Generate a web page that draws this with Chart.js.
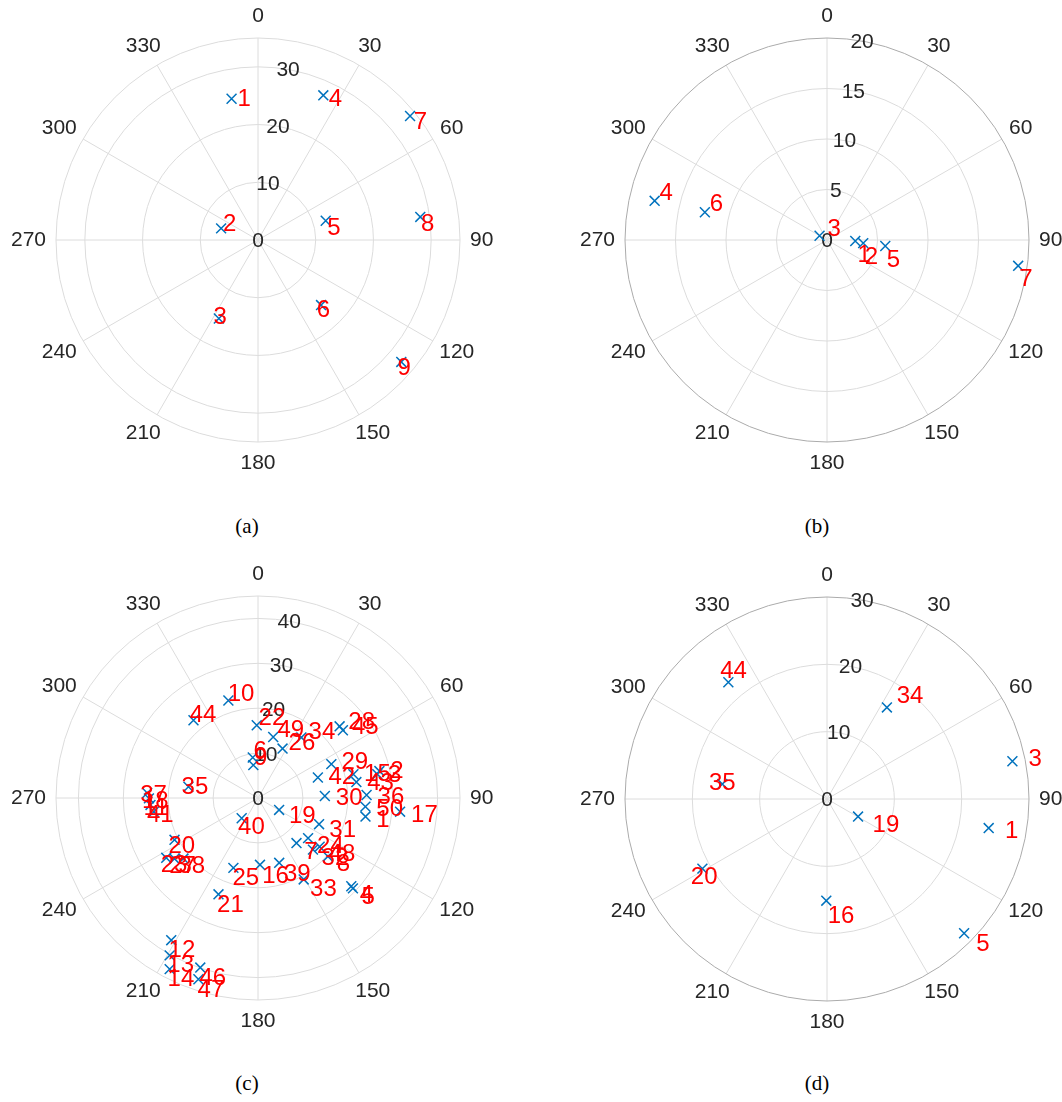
<!DOCTYPE html>
<html>
<head>
<meta charset="utf-8">
<script src="https://cdn.jsdelivr.net/npm/chart.js@4.4.0/dist/chart.umd.min.js"></script>
<style>
  body { margin: 0; width: 1062px; height: 1102px; background: #fff; position: relative; overflow: hidden; }
  canvas { position: absolute; }
  .cap { position: absolute; width: 60px; margin-left: -30px; text-align: center;
         font-family: "Liberation Serif", "Times New Roman", serif; font-size: 21px; line-height: 24px; color: #000; }
</style>
</head>
<body>
<canvas id="polarA" width="514" height="487" style="left:1px; top:0px"></canvas>
<canvas id="polarB" width="514" height="487" style="left:570px; top:0px"></canvas>
<canvas id="polarC" width="514" height="487" style="left:1px; top:558px"></canvas>
<canvas id="polarD" width="514" height="487" style="left:570px; top:559px"></canvas>
<div class="cap" style="left:247px; top:514px">(a)</div>
<div class="cap" style="left:817px; top:514px">(b)</div>
<div class="cap" style="left:247px; top:1071px">(c)</div>
<div class="cap" style="left:817px; top:1071px">(d)</div>
<script>
// angle ticks (degrees, clockwise from top)
const angleTicks = [0, 30, 60, 90, 120, 150, 180, 210, 240, 270, 300, 330];

// (a)
const labelsA = [1, 2, 3, 4, 5, 6, 7, 8, 9];
const thetaA = [349.4, 287.5, 206.5, 24.3, 74.1, 135.9, 50.8, 81.9, 130.4];
const rhoA = [24.9, 6.7, 15.2, 27.5, 12.2, 15.7, 34.0, 28.4, 32.6];
const rTicksA = [0, 10, 20, 30];
const rMaxA = 35;

// (b)
const labelsB = [1, 2, 3, 4, 5, 6, 7];
const thetaB = [92, 94.9, 300, 282.8, 95.9, 282.8, 97.7];
const rhoB = [2.8, 3.6, 0.85, 17.5, 5.8, 12.4, 19.1];
const rTicksB = [0, 5, 10, 15, 20];
const rMaxB = 20;

// (c)
const labelsC = [1, 2, 3, 4, 5, 6, 7, 8, 9, 10,
  11, 12, 13, 14, 15, 16, 17, 18, 19, 20,
  21, 22, 23, 24, 25, 26, 27, 28, 29, 30,
  31, 32, 33, 34, 35, 36, 37, 38, 39, 40,
  41, 42, 43, 44, 45, 46, 47, 48, 49, 50];
const thetaC = [99.8, 77.5, 78.7, 133.4, 133.6, 352.6, 139.5, 129.9, 351.9, 343.1,
  266.3, 211.4, 209.3, 207.3, 76.0, 178.3, 95.5, 269.8, 119.4, 243.4,
  202.3, 359.0, 236.9, 128.7, 199.4, 26.4, 234.0, 48.7, 65.2, 88.3,
  113.2, 133.2, 150.7, 35.6, 279.2, 88.4, 272.6, 230.9, 161.9, 218.8,
  262.5, 71.1, 80.8, 320.3, 51.4, 198.8, 198.2, 128.3, 14.0, 94.6];
const rhoC = [24.3, 27.7, 27.1, 28.6, 29.2, 9.1, 13.2, 20.3, 7.4, 22.7,
  24.0, 37.1, 40.2, 42.9, 21.9, 14.9, 31.8, 24.3, 5.4, 20.8,
  23.2, 16.2, 24.4, 14.3, 16.5, 12.3, 23.0, 24.2, 18.0, 14.9,
  14.8, 16.8, 20.8, 16.6, 15.7, 24.2, 24.7, 21.4, 15.2, 5.8,
  23.4, 14.1, 22.2, 22.5, 24.2, 39.9, 42.5, 17.5, 14.0, 24.0];
const rTicksC = [0, 10, 20, 30, 40];
const rMaxC = 45;

// (d)
const labelsD = [1, 3, 5, 16, 19, 20, 34, 35, 44];
const thetaD = [100.2, 78.5, 134.4, 180.4, 119.5, 240.8, 33.2, 278.1, 319.8];
const rhoD = [24.4, 28.1, 28.5, 15.1, 5.3, 21.2, 16.25, 15.7, 22.7];
const rTicksD = [0, 10, 20, 30];
const rMaxD = 30;

const DEG = Math.PI / 180;

function polarPlugin(cfg) {
  return {
    id: "polarGrid",
    beforeDatasetsDraw(chart) {
      const ctx = chart.ctx;
      const xs = chart.scales.x;
      const ys = chart.scales.y;
      const cx = xs.getPixelForValue(0);
      const cy = ys.getPixelForValue(0);
      const px = (r) => xs.getPixelForValue(r) - cx;
      const outer = px(cfg.rMax);

      ctx.save();
      ctx.lineWidth = 1;
      ctx.strokeStyle = "#dcdcdc";
      cfg.rTicks.forEach((r) => {
        if (r > 0 && r < cfg.rMax) {
          ctx.beginPath();
          ctx.arc(cx, cy, px(r), 0, 2 * Math.PI);
          ctx.stroke();
        }
      });
      angleTicks.forEach((a) => {
        ctx.beginPath();
        ctx.moveTo(cx, cy);
        ctx.lineTo(cx + outer * Math.sin(a * DEG), cy - outer * Math.cos(a * DEG));
        ctx.stroke();
      });
      ctx.strokeStyle = cfg.edgeColor;
      ctx.beginPath();
      ctx.arc(cx, cy, outer, 0, 2 * Math.PI);
      ctx.stroke();

      // angle labels outside the circle
      ctx.fillStyle = "#262626";
      ctx.font = '21px "Liberation Sans", Arial, sans-serif';
      ctx.textAlign = "center";
      ctx.textBaseline = "middle";
      const R = outer + 10;
      angleTicks.forEach((a) => {
        const s = Math.sin(a * DEG);
        const c = Math.cos(a * DEG);
        const w = ctx.measureText(String(a)).width;
        ctx.fillText(String(a), cx + R * s + (s * w) / 2, cy - R * c - c * 11.5);
      });

      // r tick labels along the 10 degree ray
      cfg.rTicks.forEach((r) => {
        ctx.fillText(String(r), cx + px(r) * Math.sin(10 * DEG), cy + 1 - px(r) * Math.cos(10 * DEG));
      });
      ctx.restore();
    },
    afterDatasetsDraw(chart) {
      const ctx = chart.ctx;
      const pts = chart.getDatasetMeta(0).data;
      ctx.save();
      ctx.fillStyle = "#ff0000";
      ctx.font = '24px "Liberation Sans", Arial, sans-serif';
      ctx.textAlign = "left";
      ctx.textBaseline = "middle";
      cfg.theta.forEach((t, i) => {
        const s = Math.sin(t * DEG);
        const c = Math.cos(t * DEG);
        let dx, dy;
        if (cfg.labelMode === "tangent") {
          dx = c * cfg.labelDist;
          dy = s * cfg.labelDist;
        } else {
          dx = s * cfg.labelDist;
          dy = -c * cfg.labelDist;
        }
        ctx.fillText(String(cfg.labels[i]), pts[i].x + dx + cfg.shift[0], pts[i].y + dy + cfg.shift[1]);
      });
      ctx.restore();
    },
  };
}

function drawPolar(canvasId, cfg) {
  const points = cfg.theta.map((t, i) => ({
    x: cfg.rho[i] * Math.sin(t * DEG),
    y: cfg.rho[i] * Math.cos(t * DEG),
  }));

  new Chart(document.getElementById(canvasId), {
    type: "scatter",
    data: {
      datasets: [
        {
          data: points,
          pointStyle: "crossRot",
          pointRadius: 7,
          pointBorderWidth: 1.5,
          borderColor: "#0072BD",
          backgroundColor: "#0072BD",
          clip: false,
        },
      ],
    },
    options: {
      responsive: false,
      animation: false,
      layout: { padding: { top: 38, bottom: 45, left: 55, right: 55 } },
      scales: {
        x: { type: "linear", min: -cfg.rMax, max: cfg.rMax, display: false },
        y: { type: "linear", min: -cfg.rMax, max: cfg.rMax, display: false },
      },
      plugins: {
        legend: { display: false },
        tooltip: { enabled: false },
      },
    },
    plugins: [polarPlugin(cfg)],
  });
}

drawPolar("polarA", {
  labels: labelsA, theta: thetaA, rho: rhoA, rTicks: rTicksA, rMax: rMaxA,
  edgeColor: "#dcdcdc", labelMode: "tangent", labelDist: 6, shift: [0, 1.5],
});
drawPolar("polarB", {
  labels: labelsB, theta: thetaB, rho: rhoB, rTicks: rTicksB, rMax: rMaxB,
  edgeColor: "#ababab", labelMode: "tangent", labelDist: 11, shift: [2.5, 3],
});
drawPolar("polarC", {
  labels: labelsC, theta: thetaC, rho: rhoC, rTicks: rTicksC, rMax: rMaxC,
  edgeColor: "#dcdcdc", labelMode: "radial", labelDist: 9, shift: [2, 2.5],
});
drawPolar("polarD", {
  labels: labelsD, theta: thetaD, rho: rhoD, rTicks: rTicksD, rMax: rMaxD,
  edgeColor: "#ababab", labelMode: "radial", labelDist: 15, shift: [1.5, 1],
});
</script>
</body>
</html>
